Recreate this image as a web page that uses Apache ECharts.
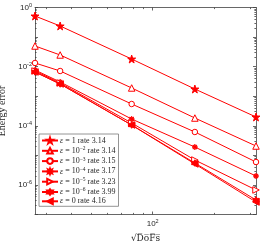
<!DOCTYPE html>
<html><head><meta charset="utf-8">
<script src="https://cdn.jsdelivr.net/npm/echarts@6/dist/echarts.min.js"></script>
<style>html,body{margin:0;padding:0;background:#fff}#c{width:266px;height:242px}</style>
</head><body><div id="c"></div>
<script>
// sqrt(DoFs)
const sqrtDofs = [26.5, 35.2, 78.9, 161, 321];
const err_eps1   = [0.516, 0.237, 0.0181, 1.75e-3, 1.98e-4];
const err_eps1e2 = [0.0499, 0.0248, 1.90e-3, 1.83e-4, 2.07e-5];
const err_eps1e3 = [0.0133, 7.13e-3, 5.45e-4, 6.17e-5, 5.96e-6];
const err_eps1e4 = [7.7e-3, 3.03e-3, 1.69e-4, 1.91e-5, 2.0e-6];
const err_eps1e5 = [7.12e-3, 2.80e-3, 1.24e-4, 6.96e-6, 6.75e-7];
const err_eps1e6 = [6.59e-3, 2.59e-3, 1.06e-4, 5.5e-6, 3.09e-7];
const err_eps0   = [6.59e-3, 2.59e-3, 1.06e-4, 5.12e-6, 2.64e-7];
const legendNames = ['eps1','eps1e2','eps1e3','eps1e4','eps1e5','eps1e6','eps0'];
const legendExp = [null, '-2', '-3', '-4', '-5', '-6', null];
const legendRates = ['3.14','3.14','3.15','3.17','3.23','3.99','4.16'];
const xMajorTicks = [100];
const xMinorTicks = [30,40,50,60,70,80,90,200,300];
const yLabelTicks = [1, 1e-2, 1e-4, 1e-6];
const yMajorTicks = [1,1e-1,1e-2,1e-3,1e-4,1e-5,1e-6,1e-7];
const yMinorTicks = [];
for (let e = -7; e < 0; e++) for (let m = 2; m <= 9; m++) yMinorTicks.push(m * Math.pow(10, e));

const RED = '#ff0000';
const AX = '#404040';
const STAR = 'path://M0,-10 L2.245,-3.09 L9.51,-3.09 L3.633,1.18 L5.878,8.09 L0,3.82 L-5.878,8.09 L-3.633,1.18 L-9.51,-3.09 L-2.245,-3.09 Z';
const HEX = 'path://M0,-10 L2.887,-5 L8.66,-5 L5.774,0 L8.66,5 L2.887,5 L0,10 L-2.887,5 L-8.66,5 L-5.774,0 L-8.66,-5 L-2.887,-5 Z';
const AST = 'path://M0,-10 L2,-4.8 L7.07,-7.07 L4.8,-2 L10,0 L4.8,2 L7.07,7.07 L2,4.8 L0,10 L-2,4.8 L-7.07,7.07 L-4.8,2 L-10,0 L-4.8,-2 L-7.07,-7.07 L-2,-4.8 Z';

const supFmt = v => {
  const e = Math.round(Math.log10(v));
  return '{b|10}{s|' + (e < 0 ? '-' + (-e) : e) + '}';
};
const tickRich = {
  b: {fontSize: 8, fontFamily: 'Liberation Sans', color: '#262626'},
  s: {fontSize: 5.5, fontFamily: 'Liberation Sans', color: '#262626', padding: [0,0,5,0]}
};

function axisCommon(extra) {
  return Object.assign({
    type: 'log', logBase: 10, gridIndex: 0,
    splitLine: {show: false}, minorTick: {show: false}, minorSplitLine: {show: false}
  }, extra);
}
const xmin = sqrtDofs[0], xmax = sqrtDofs[sqrtDofs.length - 1];
const ymin = 1e-7, ymax = 1;

const xAxis = [
  axisCommon({min: xmin, max: xmax, position: 'bottom',
    axisLine: {show: true, lineStyle: {color: AX, width: 0.8}},
    axisTick: {show: true, inside: true, length: 3, customValues: xMajorTicks, lineStyle: {color: AX, width: 0.8}},
    axisLabel: {show: true, customValues: xMajorTicks, formatter: supFmt, rich: tickRich, margin: 4},
    name: '\u221AD\u0305o\u0305F\u0305s\u0305', nameLocation: 'middle', nameGap: 20,
    nameTextStyle: {fontFamily: 'DejaVu Serif', fontSize: 9, color: '#262626'}
  }),
  axisCommon({min: xmin, max: xmax, position: 'bottom',
    axisLine: {show: false},
    axisTick: {show: true, inside: true, length: 1.6, customValues: xMinorTicks, lineStyle: {color: AX, width: 0.8}},
    axisLabel: {show: false}
  }),
  axisCommon({min: xmin, max: xmax, position: 'top',
    axisLine: {show: true, lineStyle: {color: AX, width: 0.8}},
    axisTick: {show: true, inside: true, length: 3, customValues: xMajorTicks, lineStyle: {color: AX, width: 0.8}},
    axisLabel: {show: false}
  }),
  axisCommon({min: xmin, max: xmax, position: 'top',
    axisLine: {show: false},
    axisTick: {show: true, inside: true, length: 1.6, customValues: xMinorTicks, lineStyle: {color: AX, width: 0.8}},
    axisLabel: {show: false}
  })
];
const yAxis = [
  axisCommon({min: ymin, max: ymax, position: 'left',
    axisLine: {show: true, lineStyle: {color: AX, width: 0.8}},
    axisTick: {show: true, inside: true, length: 3, customValues: yMajorTicks, lineStyle: {color: AX, width: 0.8}},
    axisLabel: {show: true, customValues: yLabelTicks, formatter: supFmt, rich: tickRich, margin: 3},
    name: 'Energy error', nameLocation: 'middle', nameGap: 21,
    nameTextStyle: {fontFamily: 'Liberation Serif', fontSize: 10, color: '#262626'}
  }),
  axisCommon({min: ymin, max: ymax, position: 'left',
    axisLine: {show: false},
    axisTick: {show: true, inside: true, length: 1.6, customValues: yMinorTicks, lineStyle: {color: AX, width: 0.8}},
    axisLabel: {show: false}
  }),
  axisCommon({min: ymin, max: ymax, position: 'right',
    axisLine: {show: true, lineStyle: {color: AX, width: 0.8}},
    axisTick: {show: true, inside: true, length: 3, customValues: yMajorTicks, lineStyle: {color: AX, width: 0.8}},
    axisLabel: {show: false}
  }),
  axisCommon({min: ymin, max: ymax, position: 'right',
    axisLine: {show: false},
    axisTick: {show: true, inside: true, length: 1.6, customValues: yMinorTicks, lineStyle: {color: AX, width: 0.8}},
    axisLabel: {show: false}
  })
];

const seriesDefs = [
  {data: err_eps1,   symbol: STAR, size: 8, filled: true, rot: 0},
  {data: err_eps1e2, symbol: 'triangle', size: 6.5, filled: false, rot: 0},
  {data: err_eps1e3, symbol: 'circle', size: 5.5, filled: false, rot: 0},
  {data: err_eps1e4, symbol: AST, size: 5.5, filled: true, rot: 0},
  {data: err_eps1e5, symbol: 'triangle', size: 6.5, filled: false, rot: -90},
  {data: err_eps1e6, symbol: HEX, size: 6.5, filled: true, rot: 0},
  {data: err_eps0,   symbol: 'triangle', size: 6.5, filled: true, rot: 90}
];
const series = seriesDefs.map((d, i) => ({
  name: legendNames[i], type: 'line', xAxisIndex: 0, yAxisIndex: 0,
  data: d.data.map((v, j) => [sqrtDofs[j], v]),
  symbol: d.symbol, symbolSize: d.size, symbolRotate: d.rot, showSymbol: true,
  lineStyle: {color: RED, width: 1},
  itemStyle: {color: d.filled ? RED : '#ffffff', borderColor: RED, borderWidth: 1},
  animation: false, silent: true
}));

const chart = echarts.init(document.getElementById('c'), null, {renderer: 'canvas'});
chart.setOption({
  animation: false,
  grid: {left: 35, right: 10, top: 7.5, bottom: 27.5, containLabel: false, outerBoundsMode: 'none'},
  xAxis, yAxis, series,
  legend: {
    show: true, orient: 'vertical', left: 39, top: 134,
    data: legendNames, itemWidth: 16, itemHeight: 7, itemGap: 1.3,
    padding: [2.5, 3, 1, 2],
    backgroundColor: '#ffffff', borderColor: '#7a7a7a', borderWidth: 0.8, borderRadius: 0,
    selectedMode: false,
    formatter: name => {
      const i = legendNames.indexOf(name);
      const e = legendExp[i];
      if (e === null) return '{i|\u03B5}{t| = ' + (name === 'eps0' ? '0' : '1') + ' rate ' + legendRates[i] + '}';
      return '{i|\u03B5}{t| = 10}{s|' + e.replace('-', '\u2212') + '}{t| rate ' + legendRates[i] + '}';
    },
    textStyle: {
      fontSize: 8, fontFamily: 'Liberation Serif', color: '#262626', padding: [0,0,0,-3],
      rich: {
        i: {fontSize: 8, fontFamily: 'Liberation Serif', fontStyle: 'italic', color: '#262626'},
        t: {fontSize: 8, fontFamily: 'Liberation Serif', color: '#262626'},
        s: {fontSize: 5.5, fontFamily: 'Liberation Serif', color: '#262626', padding: [0,0,4,0]}
      }
    }
  }
});
</script></body></html>
